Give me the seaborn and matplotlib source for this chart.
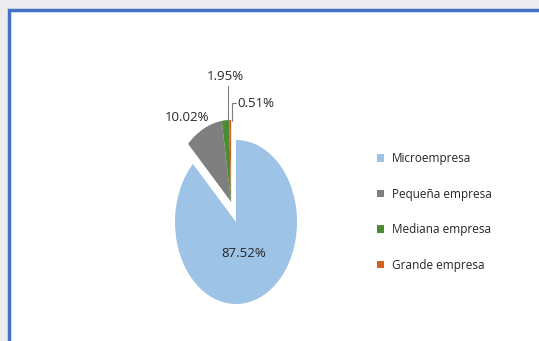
import matplotlib
matplotlib.use("Agg")
import matplotlib.pyplot as plt
import seaborn as sns
from matplotlib.patches import Rectangle
from matplotlib.lines import Line2D

sns.set_theme(style="white")
plt.rcParams['font.family'] = ['Liberation Sans Narrow', 'Open Sans', 'DejaVu Sans']

categories = ["Microempresa", "Pequeña empresa", "Mediana empresa", "Grande empresa"]
values = [87.52, 10.02, 1.95, 0.51]
value_labels = ["87.52%", "10.02%", "1.95%", "0.51%"]
colors = ["#9DC3E6", "#7F7F7F", "#4E8A35", "#D0621C"]

W, H = 539, 341
fig = plt.figure(figsize=(W / 100, H / 100), dpi=100)
fig.patch.set_facecolor("#ECECEF")

# white panel with blue frame
fig.patches.append(Rectangle((8.5 / W, -0.05), 1.05, (H - 9.5) / H + 0.05, transform=fig.transFigure,
                             facecolor="white", edgecolor="#4472C4", linewidth=2.5, zorder=-10))

# pie axes: ellipse rx=61px, ry=82px centred at (236, 222)
cx, cy, rx, ry = 236, 222, 61, 82
xl = (-1.5, 1.5)
yl = (-1.25, 2.0)
aw = (xl[1] - xl[0]) * rx
ah = (yl[1] - yl[0]) * ry
left = cx + xl[0] * rx
bottom = (H - cy) + yl[0] * ry
ax = fig.add_axes([left / W, bottom / H, aw / W, ah / H], zorder=5)
ax.set_facecolor("none")

wedges, _ = ax.pie(values, colors=colors, startangle=90, counterclock=False,
                   wedgeprops=dict(linewidth=0))
shift = (-0.08, 0.245)
for w in wedges[1:]:
    w.set_center(shift)
ax.set_aspect("auto")
ax.set_xlim(*xl)
ax.set_ylim(*yl)
ax.axis("off")

tc = "#262626"
fs = 9.5
ax.text(0.13, -0.38, value_labels[0], ha="center", va="center", fontsize=fs, color=tc)
ax.text(-0.80, 1.28, value_labels[1], ha="center", va="center", fontsize=fs, color=tc)
ax.text(-0.18, 1.77, value_labels[2], ha="center", va="center", fontsize=fs, color=tc)
ax.text(0.02, 1.45, value_labels[3], ha="left", va="center", fontsize=fs, color=tc)
lc = "#7F7F7F"
ax.add_line(Line2D([-0.13, -0.13], [1.66, 1.23], color=lc, linewidth=0.8))
ax.add_line(Line2D([-0.065, -0.065, 0.0], [1.23, 1.45, 1.45], color=lc, linewidth=0.8))

handles = [Rectangle((0, 0), 1, 1, facecolor=c, edgecolor="none") for c in colors]
leg = fig.legend(handles, categories, loc="center left", bbox_to_anchor=(366 / W, (H - 212) / H),
                 frameon=False, fontsize=8.5, handlelength=0.6, handleheight=0.6,
                 labelspacing=1.9, handletextpad=0.7)
leg.set_zorder(6)
for t in leg.get_texts():
    t.set_color(tc)

fig.savefig("out.png", dpi=100, facecolor=fig.get_facecolor())
